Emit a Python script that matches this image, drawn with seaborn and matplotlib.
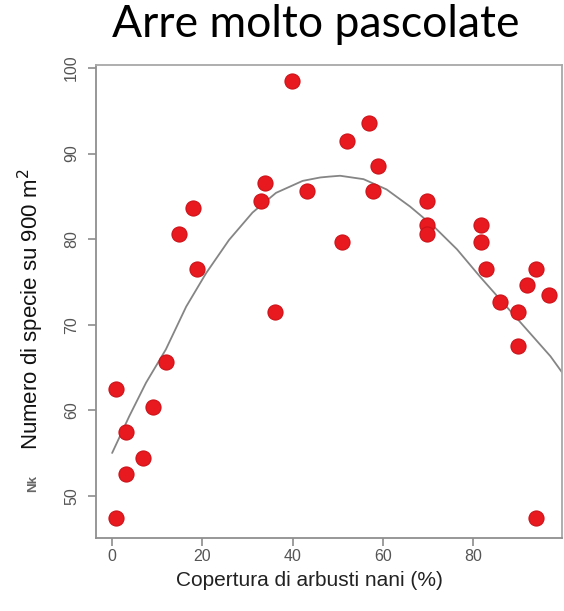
import matplotlib
matplotlib.use("Agg")
import matplotlib.pyplot as plt
import seaborn as sns
import pandas as pd

# scatter data
copertura = [0.9, 0.9, 3.0, 3.0, 6.9, 9.0, 12.0, 14.9, 18.0, 18.9, 33.0, 33.9,
             36.0, 39.8, 43.1, 50.9, 52.0, 56.9, 57.8, 58.9, 69.8, 69.8, 69.8,
             81.8, 81.8, 82.9, 85.9, 89.8, 89.8, 91.9, 93.8, 96.8, 93.8]
specie = [62.5, 47.4, 57.5, 52.6, 54.4, 60.4, 65.6, 80.6, 83.6, 76.5, 84.5, 86.5,
          71.5, 98.5, 85.6, 79.6, 91.5, 93.6, 85.6, 88.5, 84.5, 81.6, 80.6,
          81.6, 79.6, 76.5, 72.6, 71.5, 67.5, 74.6, 76.5, 73.5, 47.4]
# fitted curve
curva_x = [0.0, 3.8, 7.5, 11.9, 16.4, 20.8, 25.9, 31.1, 36.3, 42.2, 46.1, 48.1,
           50.5, 55.7, 60.8, 66.0, 71.2, 76.4, 81.5, 86.7, 91.9, 97.1, 99.7]
curva_y = [55.0, 59.3, 63.2, 67.1, 72.1, 76.0, 79.9, 83.1, 85.4, 86.8, 87.2, 87.3,
           87.4, 87.0, 85.8, 83.8, 81.5, 78.8, 75.6, 72.5, 69.4, 66.3, 64.4]
x_ticks = [0, 20, 40, 60, 80]
y_ticks = [50, 60, 70, 80, 90, 100]

df = pd.DataFrame({"x": copertura, "y": specie})
curve = pd.DataFrame({"x": curva_x, "y": curva_y})

sns.set_theme(style="white")
plt.rcParams['font.family'] = ['Liberation Sans', 'DejaVu Sans']

fig = plt.figure(figsize=(5.64, 6.11), dpi=100)
ax = fig.add_axes([0.170, 0.120, 0.826, 0.773])
sns.lineplot(data=curve, x="x", y="y", color="#858585", lw=1.3, ax=ax, sort=False)
sns.scatterplot(data=df, x="x", y="y", s=118, color="#e8191f", edgecolor="#cc1118",
                linewidth=0.8, ax=ax, zorder=3)

ax.set_xlim(-3.6, 99.6)
ax.set_ylim(45.1, 100.3)
ax.set_xticks(x_ticks)
ax.set_yticks(y_ticks)
ax.tick_params(axis="both", direction="out", length=6, width=1.2, color="#8c8c8c",
               labelcolor="#555555", labelsize=11.5, left=True, bottom=True)
ax.tick_params(axis="x", pad=2.5)
ax.tick_params(axis="y", pad=6)
plt.setp(ax.get_yticklabels(), rotation=90, va="center")
for name, s in ax.spines.items():
    s.set_color("#8f8f8f" if name in ("left", "bottom") else "#a8a8a8")
    s.set_linewidth(1.3)
ax.set_xlabel("Copertura di arbusti nani (%)", fontsize=15, color="#222222")
ax.set_ylabel("Numero di specie su 900 m$^2$", fontsize=16, color="#111111")
ax.xaxis.label.set_va("center")
ax.yaxis.label.set_va("center")
ax.xaxis.set_label_coords(0.459, -0.0915)
ax.yaxis.set_label_coords(-0.140, 0.483)
fig.text(0.559, 1 - 37 / 611, "Arre molto pascolate", ha="center", va="baseline",
         fontsize=32, family=["Lato", "DejaVu Sans"], color="#000000")
fig.text(0.059, 0.209, "Nk", rotation=90, ha="center", va="center", fontsize=9.5,
         color="#666666", fontweight="bold")

fig.savefig("out.png", dpi=100)
